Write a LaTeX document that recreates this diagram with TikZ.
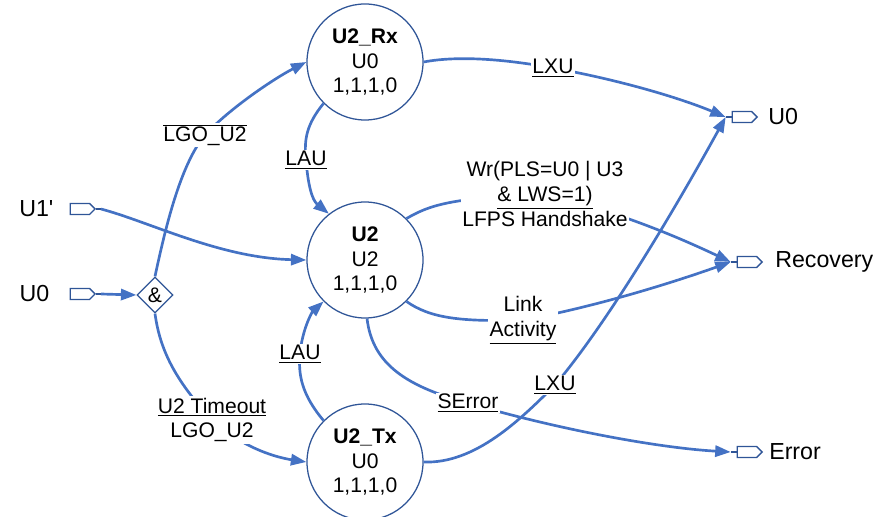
\documentclass[tikz,border=0pt]{standalone}
\usepackage{fontspec}
\setmainfont{Liberation Sans}
\usetikzlibrary{arrows.meta,positioning,shapes.geometric,shapes.symbols}
\definecolor{flowblue}{HTML}{4472C4}
\definecolor{edgeblue}{HTML}{2F5597}

\tikzset{
  state/.style={circle, draw=edgeblue, line width=0.9pt, minimum size=2.9cm,
    inner sep=0pt, align=center},
  port/.style={signal, signal to=east, draw=edgeblue, line width=0.9pt,
    minimum width=0.62cm, minimum height=0.27cm, inner sep=0pt},
  pin/.style={inner sep=0pt, font=\fontsize{16.5}{19}\selectfont},
  gate/.style={diamond, draw=edgeblue, line width=0.9pt, minimum width=0.9cm,
    minimum height=0.9cm, inner sep=0pt, fill=white},
  cond/.style={fill=white, inner sep=1pt, align=center},
  flow/.style={draw=flowblue, line width=1.9pt, -{Triangle[length=11pt,width=8pt]}},
  lead/.style={draw=edgeblue, line width=0.9pt},
}

\begin{document}
\begin{tikzpicture}[x=0.025cm, y=-0.025cm,
    font=\fontsize{15}{17.7}\selectfont]

\useasboundingbox (0,0) rectangle (874,517);

% states
\node[state] (rx) at (365,62)  {\textbf{U2\_Rx}\\U0\\1,1,1,0};
\node[state] (u2) at (365,260) {\textbf{U2}\\U2\\1,1,1,0};
\node[state] (tx) at (365,462) {\textbf{U2\_Tx}\\U0\\1,1,1,0};

% inputs
\node[port] (u1p) at (80,209) {};
\node[pin, left=0.4cm of u1p] {U1\textquotesingle};
\node[port] (u0p) at (80,294) {};
\node[pin, left=0.5cm of u0p] {U0};
\draw[lead] (u1p.east) -- ++(5,0) coordinate (u1out);
\draw[lead] (u0p.east) -- ++(5,0) coordinate (u0out);

\node[gate] (amp) at (155,295) {\&};

% outputs
\node[port] (r0p) at (742,117) {};
\node[pin, right=0.25cm of r0p] {U0};
\node[port] (recp) at (747,262) {};
\node[pin, right=0.3cm of recp] {Recovery};
\node[port] (errp) at (747,452) {};
\node[pin, right=0.15cm of errp] {Error};
\draw[lead] (r0p.west) -- ++(-6,0) coordinate (r0in);
\draw[lead] (recp.west) -- ++(-6,0) coordinate (recin);
\draw[lead] (errp.west) -- ++(-6,0) coordinate (errin);

% transitions
\draw[flow] (u0out) -- (amp.west);

\draw[flow] (u1out) .. controls (150,222) and (220,258) .. (u2.west);

\draw[flow] (amp.north) .. controls (165,230) and (180,165) .. (205,135)
    node[cond] {$\overline{\mbox{LGO\_U2}}$}
  .. controls (230,108) and (275,78) .. (rx.west);

\draw[flow] (amp.south) .. controls (160,350) and (175,380) .. (212,420)
    node[cond] {\underline{U2 Timeout}\\LGO\_U2}
  .. controls (245,450) and (280,458) .. (tx.west);

\draw[flow] (rx.225) .. controls (306,125) and (304,140) .. (306,160)
    node[cond] {\underline{LAU}}
  .. controls (308,185) and (312,200) .. (u2.128);

\draw[flow] (tx.135) .. controls (302,395) and (298,375) .. (300,354)
    node[cond] {\underline{LAU}}
  .. controls (302,330) and (312,312) .. (u2.225);

\draw[flow] (rx.east) .. controls (460,55) and (510,60) .. (553,68)
    node[cond] {\underline{LXU}}
  .. controls (620,80) and (680,98) .. (r0in);

\draw[flow] (tx.east) .. controls (475,464) and (520,420) .. (555,385)
    node[cond] {\underline{LXU}}
  .. controls (610,320) and (680,200) .. (r0in);

\draw[flow] (u2.45) .. controls (430,205) and (450,198) .. (545,194)
    node[cond] {Wr(PLS=U0 | U3\\\underline{\& LWS=1)}\\LFPS Handshake}
  .. controls (620,212) and (680,238) .. (recin);

\draw[flow] (u2.-45) .. controls (430,318) and (460,322) .. (523,320)
    node[cond] {Link\\\underline{Activity}}
  .. controls (600,306) and (680,280) .. (recin);

\draw[flow] (u2.-88) .. controls (372,360) and (400,385) .. (468,403)
    node[cond] {\underline{SError}}
  .. controls (560,430) and (660,448) .. (errin);

\end{tikzpicture}
\end{document}
